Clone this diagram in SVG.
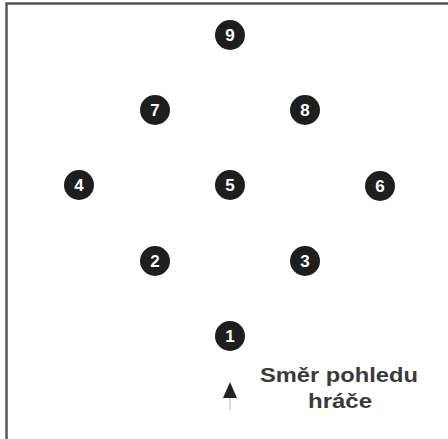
<svg xmlns="http://www.w3.org/2000/svg" width="448" height="439" viewBox="0 0 448 439">
<style>
.n circle{fill:#1e1e1e}
.n text{fill:#fff;font-family:"Liberation Sans",Arial,sans-serif;font-weight:bold;font-size:17px;text-anchor:middle}
.lbl{fill:#3a3a3a;font-family:"Liberation Sans",Arial,sans-serif;font-weight:bold;font-size:21px}
</style>
<rect x="0" y="0" width="448" height="439" fill="#fff"/>
<path d="M6.5 439 V3.5 H448" fill="none" stroke="#555" stroke-width="2.5"/>
<g id="n9" class="n"><circle cx="230" cy="35" r="15"/><text x="230" y="41">9</text></g>
<g id="n7" class="n"><circle cx="155" cy="110" r="15"/><text x="155" y="116">7</text></g>
<g id="n8" class="n"><circle cx="305" cy="110" r="15"/><text x="305" y="116">8</text></g>
<g id="n4" class="n"><circle cx="79" cy="185" r="15"/><text x="79" y="191">4</text></g>
<g id="n5" class="n"><circle cx="230" cy="185" r="15"/><text x="230" y="191">5</text></g>
<g id="n6" class="n"><circle cx="380" cy="186" r="15"/><text x="380" y="192">6</text></g>
<g id="n2" class="n"><circle cx="155" cy="261" r="15"/><text x="155" y="267">2</text></g>
<g id="n3" class="n"><circle cx="305" cy="261" r="15"/><text x="305" y="267">3</text></g>
<g id="n1" class="n"><circle cx="230" cy="336" r="15"/><text x="230" y="342">1</text></g>
<g id="connectors">
<line x1="230" y1="394" x2="230" y2="410" stroke="#ccc" stroke-width="1.5"/>
<polygon points="230,382 237,398 223,398" fill="#222"/>
</g>
<g id="label">
<text class="lbl" x="260" y="382" textLength="158" lengthAdjust="spacingAndGlyphs">Směr pohledu</text>
<text class="lbl" x="308" y="408" textLength="64" lengthAdjust="spacingAndGlyphs">hráče</text>
</g>
</svg>
